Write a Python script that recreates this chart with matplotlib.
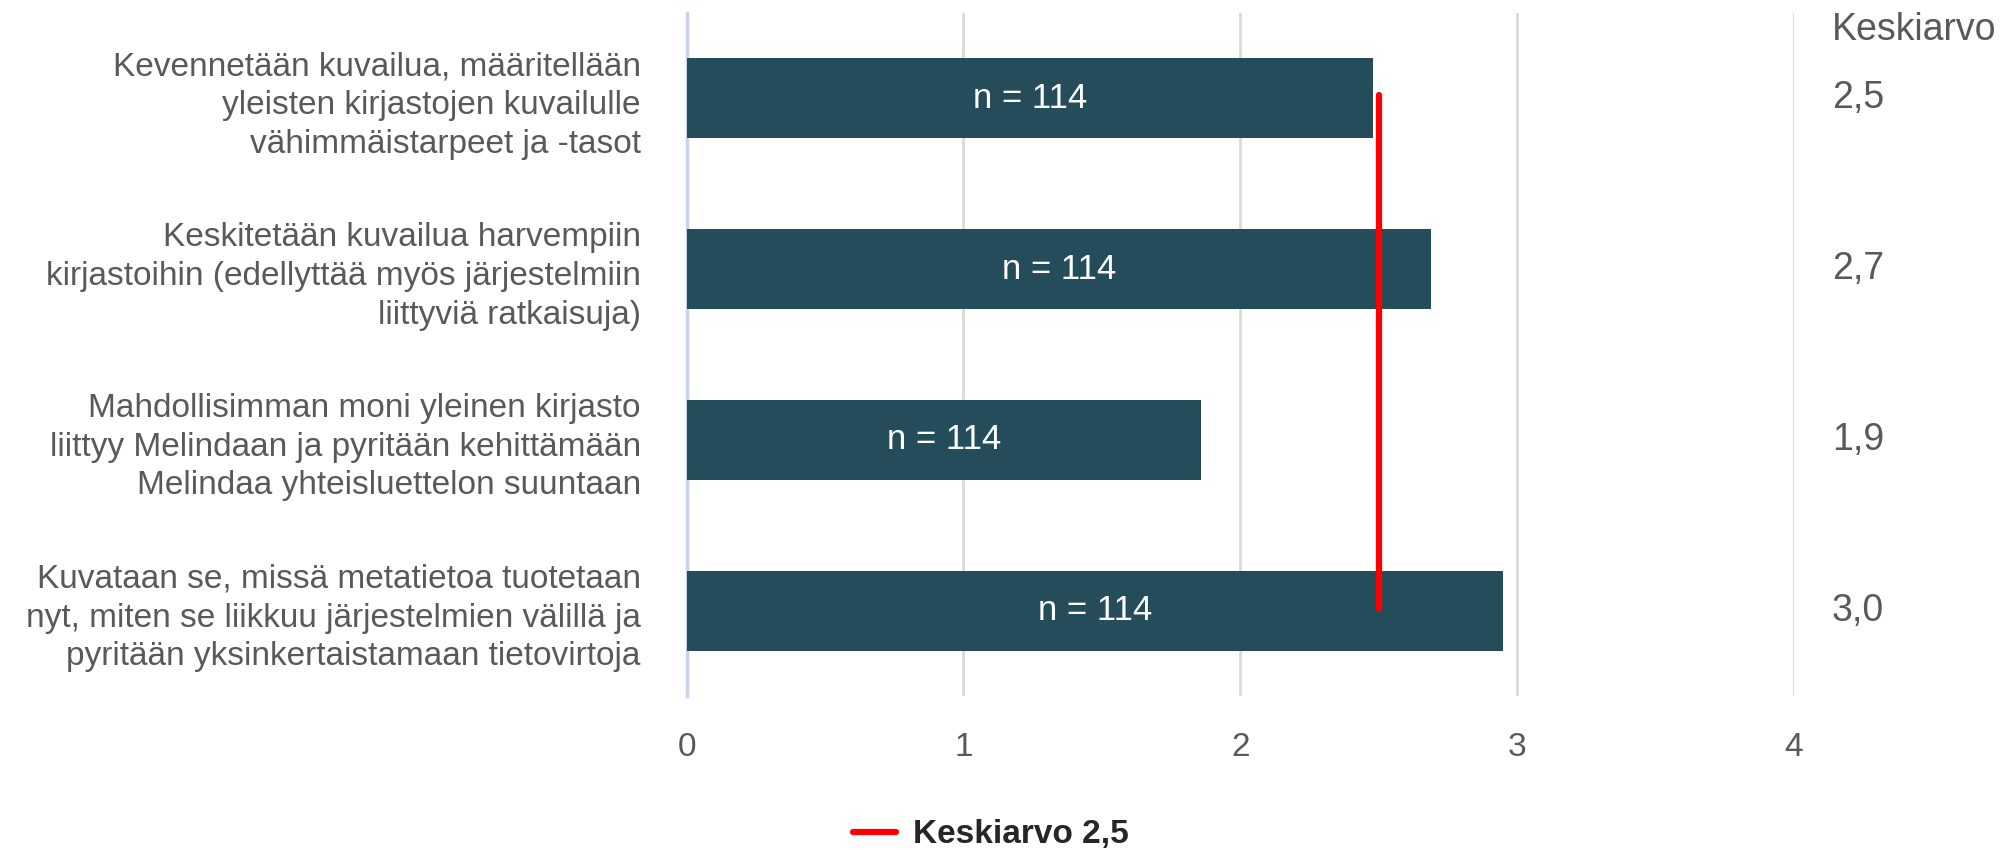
import matplotlib
matplotlib.use("Agg")
from matplotlib import pyplot as plt

plt.rcParams['font.family'] = ['Liberation Sans', 'DejaVu Sans']

kategoriat = [
    "Kevennetään kuvailua, määritellään\nyleisten kirjastojen kuvailulle\nvähimmäistarpeet ja -tasot",
    "Keskitetään kuvailua harvempiin\nkirjastoihin (edellyttää myös järjestelmiin\nliittyviä ratkaisuja)",
    "Mahdollisimman moni yleinen kirjasto\nliittyy Melindaan ja pyritään kehittämään\nMelindaa yhteisluettelon suuntaan",
    "Kuvataan se, missä metatietoa tuotetaan\nnyt, miten se liikkuu järjestelmien välillä ja\npyritään yksinkertaistamaan tietovirtoja",
]
keskiarvot = [2.48, 2.69, 1.86, 2.95]
keskiarvo_tekstit = ["2,5", "2,7", "1,9", "3,0"]
n_tekstit = ["n = 114", "n = 114", "n = 114", "n = 114"]
kokonaiskeskiarvo = 2.5
xtiks = [0, 1, 2, 3, 4]

harmaa = '#595959'
palkki = '#244c5a'

fig = plt.figure(figsize=(20.02, 8.5), dpi=100)
ax = fig.add_axes([0.343, 0.181, 0.553, 0.804])

y = list(range(len(kategoriat)))
palkit = ax.barh(y, keskiarvot, height=0.47, color=palkki, zorder=3)

for i, (v, t) in enumerate(zip(keskiarvot, n_tekstit)):
    ax.text(v / 2, i, t, color='white', fontsize=25, ha='center', va='center', zorder=4)

viiva, = ax.plot([kokonaiskeskiarvo, kokonaiskeskiarvo], [-0.02, 2.99], color='#ff0000',
                 lw=4.5, solid_capstyle='round', zorder=5, label="Keskiarvo 2,5")

ax.set_xlim(0, 4)
ax.set_ylim(3.5, -0.5)
ax.set_xticks(xtiks)
ax.set_xticklabels([str(x) for x in xtiks], fontsize=24, color=harmaa)
ax.set_yticks(y)
ax.set_yticklabels(kategoriat, fontsize=24, color=harmaa, linespacing=1.32)
ax.tick_params(axis='both', length=0)
ax.tick_params(axis='y', pad=33)
ax.tick_params(axis='x', pad=26)
ax.xaxis.grid(True, color='#d9d9d9', lw=2, zorder=0)
for s in ['top', 'right', 'bottom']:
    ax.spines[s].set_visible(False)
ax.spines['left'].set_color('#c9d3ea')
ax.spines['left'].set_linewidth(2.5)

# keskiarvosarake oikealla
fig.text(0.915, 0.965, "Keskiarvo", fontsize=27, color=harmaa, ha='left', va='center')
for i, t in enumerate(keskiarvo_tekstit):
    yy = ax.transData.transform((0, i))[1] / fig.bbox.height
    fig.text(0.915, yy, t, fontsize=27, color=harmaa, ha='left', va='center')

fig.legend(handles=[viiva], loc='center', bbox_to_anchor=(0.495, 0.018), frameon=False,
           prop={'size': 24, 'weight': 'bold'}, handlelength=1.3, handletextpad=0.5,
           labelcolor='#262626')

fig.savefig("out.png", dpi=100)
